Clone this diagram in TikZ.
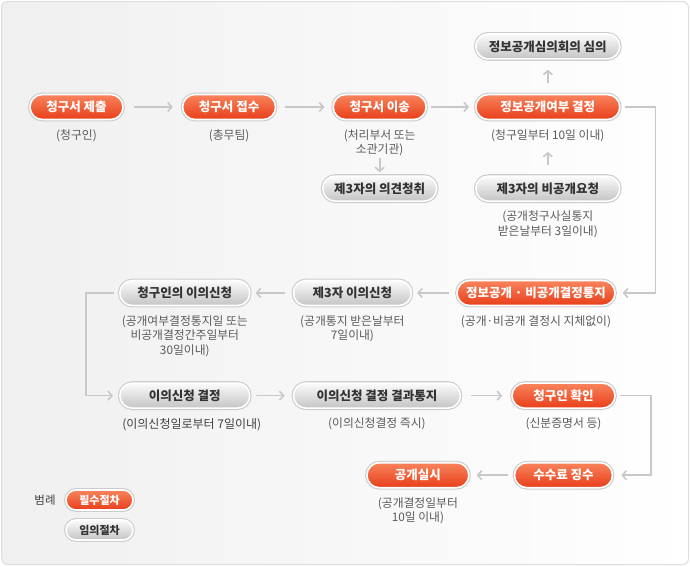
\documentclass[tikz,border=0pt]{standalone}
\usepackage{fontspec}
\setmainfont{Noto Sans CJK KR}
\usetikzlibrary{arrows.meta, positioning, calc}
\definecolor{orangetop}{RGB}{248,132,92}
\definecolor{orangebot}{RGB}{232,62,26}
\definecolor{graytop}{RGB}{251,251,251}
\definecolor{graybot}{RGB}{196,196,196}
\definecolor{linegray}{RGB}{200,200,200}
\definecolor{notegray}{RGB}{90,90,90}
\definecolor{framegray}{RGB}{222,222,222}

\begin{document}
\begin{tikzpicture}[
  x=1pt, y=1pt,
  node distance=50pt,
  must/.style={rounded corners=12.5pt, top color=orangetop, bottom color=orangebot, draw=white, line width=1.6pt, preaction={draw=black!20, line width=3.8pt}, minimum height=25pt, inner sep=0pt, text=white, font=\fontsize{12.5}{14}\selectfont\bfseries},
  opt/.style={rounded corners=12.5pt, top color=graytop, bottom color=graybot, draw=white, line width=1.6pt, preaction={draw=black!20, line width=3.8pt}, minimum height=25pt, inner sep=0pt, text=black!80, font=\fontsize{12.5}{14}\selectfont\bfseries},
  note/.style={font=\fontsize{11.8}{14.5}\selectfont, text=notegray, align=center, inner sep=1pt},
  arr/.style={draw=linegray, line width=1.6pt, -{Straight Barb[length=4pt, width=9pt]}}
]
\useasboundingbox (0,0) rectangle (690,-566);
\draw[framegray, line width=1pt, rounded corners=6pt, left color=black!6, right color=white] (1.5,-1.5) rectangle (688.5,-564.5);

\node[must, minimum width=93pt] (submit) at (76.5,-107) {청구서 제출};
\node[must, minimum width=93pt, right=58pt of submit] (receive) {청구서 접수};
\node[must, minimum width=93pt, right=56pt of receive] (transfer) {청구서 이송};
\node[must, minimum width=144pt, right=48pt of transfer] (decide) {정보공개여부 결정};
\node[opt, minimum width=144pt, above=34pt of decide] (review) {정보공개심의회의 심의};
\node[opt, minimum width=114pt, below=55pt of transfer] (hearing) {제3자의 의견청취};
\node[opt, minimum width=144pt, below=55pt of decide] (refuse) {제3자의 비공개요청};

\node[note, below=8pt of submit] (submitnote) {(청구인)};
\node[note, below=8pt of receive] (receivenote) {(총무팀)};
\node[note, below=8pt of transfer] (transfernote) {(처리부서 또는\\소관기관)};
\node[note, below=8pt of decide] (decidenote) {(청구일부터 10일 이내)};
\node[note, below=8pt of refuse] (refusenote) {(공개청구사실통지\\받은날부터 3일이내)};

\node[must, minimum width=158pt] (notice) at (536,-293) {정보공개 · 비공개결정통지};
\node[opt, minimum width=118pt, left=44pt of notice] (objthird) {제3자 이의신청};
\node[opt, minimum width=130pt, left=42pt of objthird] (objreq) {청구인의 이의신청};

\node[note, below=8pt of notice] (noticenote) {(공개·비공개 결정시 지체없이)};
\node[note, below=8pt of objthird] (objthirdnote) {(공개통지 받은날부터\\7일이내)};
\node[note, below=8pt of objreq] (objreqnote) {(공개여부결정통지일 또는\\비공개결정간주일부터\\30일이내)};

\node[opt, minimum width=130pt, below=76pt of objreq] (objdec) {이의신청 결정};
\node[opt, minimum width=167pt, right=42pt of objdec] (objres) {이의신청 결정 결과통지};
\node[must, minimum width=103pt, right=50pt of objres] (identify) {청구인 확인};

\node[note, below=8pt of objdec, xshift=7pt, text=black!75, font=\fontsize{12}{14}\selectfont] (objdecnote) {(이의신청일로부터 7일이내)};
\node[note, below=8pt of objres] (objresnote) {(이의신청결정 즉시)};
\node[note, below=8pt of identify] (identifynote) {(신분증명서 등)};

\node[must, minimum width=98pt, below=53pt of identify] (fee) {수수료 징수};
\node[must, minimum width=102pt, left=44pt of fee] (disclose) {공개실시};
\node[note, below=8pt of disclose] (disclosenote) {(공개결정일부터\\10일 이내)};

\node[font=\fontsize{11.5}{13}\selectfont, text=black!75] (legend) at (45,-500) {범례};
\node[must, minimum width=67pt, minimum height=20pt, rounded corners=10pt, font=\fontsize{11}{12}\selectfont\bfseries] (legmust) at (99.5,-500) {필수절차};
\node[opt, minimum width=67pt, minimum height=20pt, rounded corners=10pt, font=\fontsize{11}{12}\selectfont\bfseries] (legopt) at (99.5,-530) {임의절차};

\draw[arr, shorten <=10pt, shorten >=9pt] (submit) -- (receive);
\draw[arr, shorten <=9pt, shorten >=8pt] (receive) -- (transfer);
\draw[arr, shorten <=4pt, shorten >=6pt] (transfer) -- (decide);
\draw[arr, shorten <=11pt, shorten >=10pt] (decide) -- (review);
\draw[arr, shorten <=1pt, shorten >=3pt] (transfernote) -- (hearing);
\draw[arr, shorten <=10pt, shorten >=9pt] (refuse) -- (decidenote);
\draw[arr, shorten <=4pt, shorten >=7pt] (decide.east) -- ++(35pt,0) |- (notice.east);
\draw[arr, shorten <=7pt, shorten >=5pt] (notice) -- (objthird);
\draw[arr, shorten <=8pt, shorten >=5pt] (objthird) -- (objreq);
\draw[arr, shorten <=5pt, shorten >=6pt] (objreq.west) -- ++(-33pt,0) |- (objdec.west);
\draw[arr, shorten <=5pt, shorten >=8pt] (objdec) -- (objres);
\draw[arr, shorten <=10pt, shorten >=9pt] (objres) -- (identify);
\draw[arr, shorten <=4pt, shorten >=8pt] (identify.east) -- ++(35pt,0) |- (fee.east);
\draw[arr, shorten <=6pt, shorten >=7pt] (fee) -- (disclose);
\end{tikzpicture}
\end{document}
